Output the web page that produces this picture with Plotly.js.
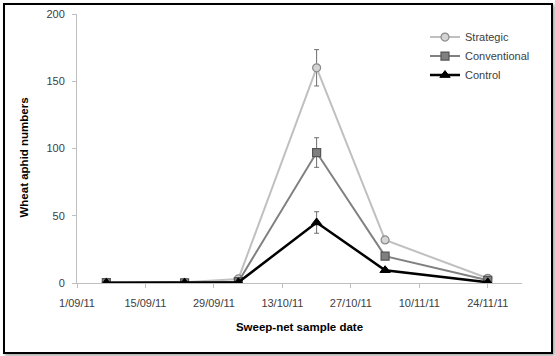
<!DOCTYPE html>
<html>
<head>
<meta charset="utf-8">
<script src="https://cdn.plot.ly/plotly-3.0.1.min.js"></script>
<style>
html,body{margin:0;padding:0;background:#fff;}
#wrap{position:relative;width:555px;height:356px;}
#chart{position:absolute;left:0;top:0;width:555px;height:356px;}
#frame{position:absolute;left:3px;top:3px;width:546px;height:347px;border:2px solid #000;pointer-events:none;box-shadow:2px 2px 3px rgba(0,0,0,0.35);}
</style>
</head>
<body>
<div id="wrap"><div id="chart"></div><div id="frame"></div></div>
<script>
const dates = ["2011-09-07","2011-09-23","2011-10-04","2011-10-20","2011-11-03","2011-11-24"];
const strategic = [0.5, 0.5, 3, 160, 32, 3.5];
const strategicErr = [0.3, 0.3, 1, 13.5, 2, 1];
const conventional = [0.3, 0.2, 1, 97, 20, 2];
const conventionalErr = [0.2, 0.2, 0.5, 11, 2, 0.8];
const control = [0.2, 0.1, 0.5, 45, 9.5, 0.5];
const controlErr = [0.1, 0.1, 0.3, 8, 1.5, 0.3];
const seriesNames = ["Strategic", "Conventional", "Control"];
const xTickVals = ["2011-09-01","2011-09-15","2011-09-29","2011-10-13","2011-10-27","2011-11-10","2011-11-24"];
const xTickText = ["1/09/11","15/09/11","29/09/11","13/10/11","27/10/11","10/11/11","24/11/11"];
const yTickVals = [0, 50, 100, 150, 200];

const traces = [
  {x: dates, y: strategic, name: seriesNames[0], mode: "lines+markers", type: "scatter",
   line: {color: "#c0c0c0", width: 2},
   marker: {symbol: "circle", size: 8, color: "#d4d4d4", line: {color: "#8a8a8a", width: 1.2}},
   error_y: {type: "data", array: strategicErr, visible: true, color: "#6e6e6e", thickness: 1, width: 2.5}},
  {x: dates, y: conventional, name: seriesNames[1], mode: "lines+markers", type: "scatter",
   line: {color: "#808080", width: 2},
   marker: {symbol: "square", size: 8, color: "#808080", line: {color: "#555555", width: 1.2}},
   error_y: {type: "data", array: conventionalErr, visible: true, color: "#6e6e6e", thickness: 1, width: 2.5}},
  {x: dates, y: control, name: seriesNames[2], mode: "lines+markers", type: "scatter",
   line: {color: "#000000", width: 2.5},
   marker: {symbol: "triangle-up", size: 9, color: "#000000", line: {color: "#000000", width: 1}},
   error_y: {type: "data", array: controlErr, visible: true, color: "#6e6e6e", thickness: 1, width: 2.5}}
];

const layout = {
  width: 555, height: 356,
  margin: {l: 77, r: 33, t: 14, b: 73},
  paper_bgcolor: "#ffffff", plot_bgcolor: "#ffffff",
  font: {family: "Liberation Sans, Arial, sans-serif", size: 11, color: "#404040"},
  showlegend: true,
  legend: {x: 0.782, y: 0.968, xanchor: "left", yanchor: "top", bgcolor: "rgba(0,0,0,0)",
           font: {size: 11, color: "#404040"}, tracegroupgap: 0, itemwidth: 30},
  xaxis: {type: "date", range: ["2011-09-01", "2011-12-01"], tickvals: xTickVals, ticktext: xTickText,
          showgrid: false, zeroline: false, showline: true, linecolor: "#bfbfbf", linewidth: 1,
          ticks: "outside", ticklen: 4, tickcolor: "#bfbfbf", ticklabelstandoff: 6,
          tickfont: {size: 11, color: "#404040"},
          title: {text: "<b>Sweep-net sample date</b>", font: {size: 11.5, color: "#000000"}, standoff: 14}},
  yaxis: {range: [0, 200], tickvals: yTickVals, showgrid: false, zeroline: false,
          showline: true, linecolor: "#bfbfbf", linewidth: 1,
          ticks: "outside", ticklen: 4, tickcolor: "#bfbfbf", ticklabelstandoff: 5,
          tickfont: {size: 11, color: "#404040"}},
  annotations: [
    {text: "<b>Wheat aphid numbers</b>", textangle: -90, xref: "paper", yref: "paper",
     x: -0.12, y: 0.465, xanchor: "center", yanchor: "middle", showarrow: false,
     font: {size: 11.5, color: "#000000"}}
  ]
};

Plotly.newPlot("chart", traces, layout, {displayModeBar: false, staticPlot: true});
</script>
</body>
</html>
